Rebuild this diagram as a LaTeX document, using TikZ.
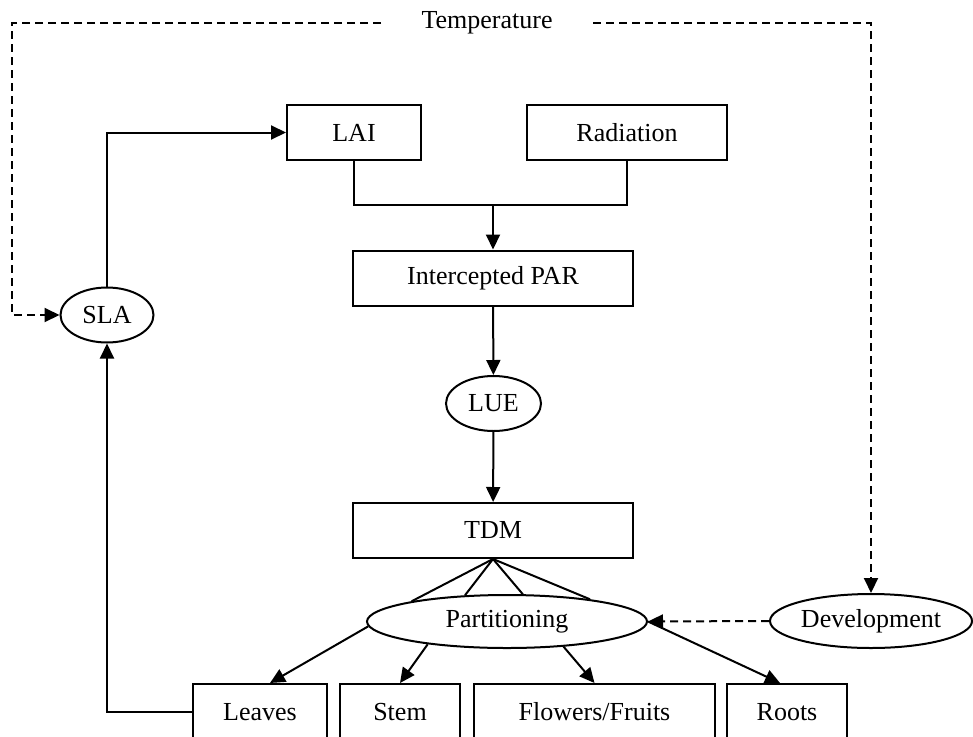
\documentclass[tikz,border=0pt]{standalone}
\usepackage{fontspec}
\setmainfont{Liberation Serif}
\usepackage{tikz}
\usetikzlibrary{shapes,arrows.meta,positioning,calc}
\tikzset{
     box/.style={rectangle, draw, minimum height=55pt, inner sep=0pt},
     arrow/.style={-{Triangle[length=15pt,width=14pt]}}
     }
\tikzstyle{oval} = [ellipse, draw, inner sep=0pt]
\tikzstyle{organ} = [rectangle, draw, minimum height=56pt, inner sep=0pt]
\tikzstyle{dasharrow} = [arrow, dash pattern=on 8pt off 5pt]

\begin{document}
\begin{tikzpicture}[x=1pt, y=-1pt, line width=2pt, font=\fontsize{26}{30}\selectfont]
    \useasboundingbox (0,0) rectangle (973,736);
    \node [minimum width=210pt, inner sep=0pt] (Temp) at (487,23) {Temperature};
    \node [box, minimum width=134pt] (LAI) at (354,132.5) {LAI};
    \node [box, minimum width=200pt, right=104pt of LAI] (Rad) {Radiation};
    \node [box, minimum width=280pt] (PAR) at (493,278) {Intercepted PAR};
    \node [oval, minimum width=95pt, minimum height=55pt] (LUE) at (493.5,403.5) {LUE};
    \node [box, minimum width=280pt] (TDM) at (493,530.5) {TDM};
    \node [oval, minimum width=280pt, minimum height=53pt] (Part) at (507,621.5) {Partitioning};
    \node [oval, minimum width=202pt, minimum height=54pt] (Dev) at (871,621) {Development};
    \node [oval, minimum width=93pt, minimum height=55pt] (SLA) at (107,315) {SLA};
    \node [organ, minimum width=134pt] (Leaves) at (260,712) {Leaves};
    \node [organ, minimum width=120pt, right=11pt of Leaves] (Stem) {Stem};
    \node [organ, minimum width=241pt, right=12pt of Stem] (Flowers) {Flowers/Fruits};
    \node [organ, minimum width=120pt, right=10pt of Flowers] (Roots) {Roots};
    \coordinate (corner) at (12,23);
    \coordinate (join) at (493,205);

    \draw [dasharrow] (Temp.west) -- (corner) |- (SLA.west);
    \draw [dasharrow] (Temp.east) -| (Dev.north);
    \draw [arrow] (SLA.north) |- (LAI.west);
    \draw (LAI.south) |- (join) -| (Rad.south);
    \draw [arrow] (join) -- (PAR.north);
    \draw [arrow] (PAR) -- (LUE);
    \draw [arrow] (LUE) -- (TDM);
    \foreach \a in {168,148,60,15}
        \draw (TDM.south) -- (Part.\a);
    \draw [dasharrow] (Dev.west) -- (Part.east);

    \draw [arrow] (Part.182) -- ([xshift=10pt]Leaves.north);
    \draw [arrow] (Part.196) -- (Stem.north);
    \draw [arrow] (Part.336) -- (Flowers.north);
    \draw [arrow] (Part.east) -- ([xshift=-7pt]Roots.north);
    \draw [arrow] (Leaves.west) -| (SLA.south); % back to leaf area
\end{tikzpicture}
\end{document}
